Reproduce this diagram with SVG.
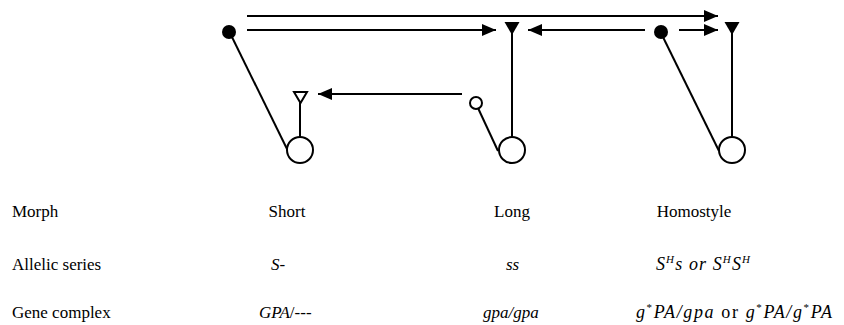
<svg xmlns="http://www.w3.org/2000/svg" width="844" height="325" viewBox="0 0 844 325">
<defs>
<style>
.ln{stroke:#000;stroke-width:2;fill:none}
.fill{fill:#000;stroke:none}
.open{fill:#fff;stroke:#000;stroke-width:2}
text{font-family:"Liberation Serif","Times New Roman",serif;font-size:17px;fill:#000}
.i{font-style:italic}
.big{font-size:18px}
.sup{font-size:11px}
</style>
<marker id="ah" viewBox="0 0 14 12" refX="14" refY="6" markerWidth="14" markerHeight="12" markerUnits="userSpaceOnUse" orient="auto">
<path d="M0,0 L14,6 L0,12 Z" fill="#000"/>
</marker>
</defs>
<rect width="844" height="325" fill="#fff"/>
<g id="connectors">
<line class="ln" x1="247" y1="16" x2="718" y2="16" marker-end="url(#ah)"/>
<line class="ln" x1="247" y1="30" x2="496" y2="30" marker-end="url(#ah)"/>
<line class="ln" x1="645" y1="30" x2="528" y2="30" marker-end="url(#ah)"/>
<line class="ln" x1="679" y1="30" x2="718" y2="30" marker-end="url(#ah)"/>
<line class="ln" x1="462" y1="94" x2="318" y2="94" marker-end="url(#ah)"/>
</g>
<g id="short">
<line class="ln" x1="230" y1="33" x2="288" y2="151"/>
<circle class="fill" cx="229" cy="32" r="7"/>
<line class="ln" x1="300" y1="100" x2="300" y2="137"/>
<path class="open" d="M294,92 L307,92 L300.5,103 Z"/>
<circle class="open" cx="300" cy="150" r="13"/>
</g>
<g id="long">
<line class="ln" x1="478" y1="108" x2="498" y2="151"/>
<circle class="open" cx="476" cy="103" r="6"/>
<line class="ln" x1="512" y1="30" x2="512" y2="137"/>
<path class="fill" d="M504.5,22 L519.5,22 L512,35 Z"/>
<circle class="open" cx="512" cy="150" r="13"/>
</g>
<g id="homostyle">
<line class="ln" x1="661" y1="33" x2="719" y2="151"/>
<circle class="fill" cx="661" cy="32" r="7"/>
<line class="ln" x1="732" y1="30" x2="732" y2="137"/>
<path class="fill" d="M724.5,22 L739.5,22 L732,35 Z"/>
<circle class="open" cx="732" cy="150" r="13"/>
</g>
<g id="table">
<text x="12" y="217">Morph</text>
<text x="287" y="217" text-anchor="middle">Short</text>
<text x="512" y="217" text-anchor="middle">Long</text>
<text x="694" y="217" text-anchor="middle">Homostyle</text>
<text x="12" y="270">Allelic series</text>
<text x="271" y="270" class="i">S-</text>
<text x="506" y="270" class="i">ss</text>
<text x="656" y="270" class="i big" textLength="94" lengthAdjust="spacing">S<tspan class="sup" dy="-7">H</tspan><tspan dy="7">s or S</tspan><tspan class="sup" dy="-7">H</tspan><tspan dy="7">S</tspan><tspan class="sup" dy="-7">H</tspan></text>
<text x="12" y="318">Gene complex</text>
<text x="259" y="318"><tspan class="i">GPA</tspan>/---</text>
<text x="483" y="318" class="i">gpa/gpa</text>
<text x="636" y="318" class="big" textLength="196" lengthAdjust="spacing"><tspan class="i">g</tspan><tspan class="sup" dy="-7">*</tspan><tspan class="i" dy="7">PA/gpa</tspan> or <tspan class="i">g</tspan><tspan class="sup" dy="-7">*</tspan><tspan class="i" dy="7">PA/g</tspan><tspan class="sup" dy="-7">*</tspan><tspan class="i" dy="7">PA</tspan></text>
</g>
</svg>
